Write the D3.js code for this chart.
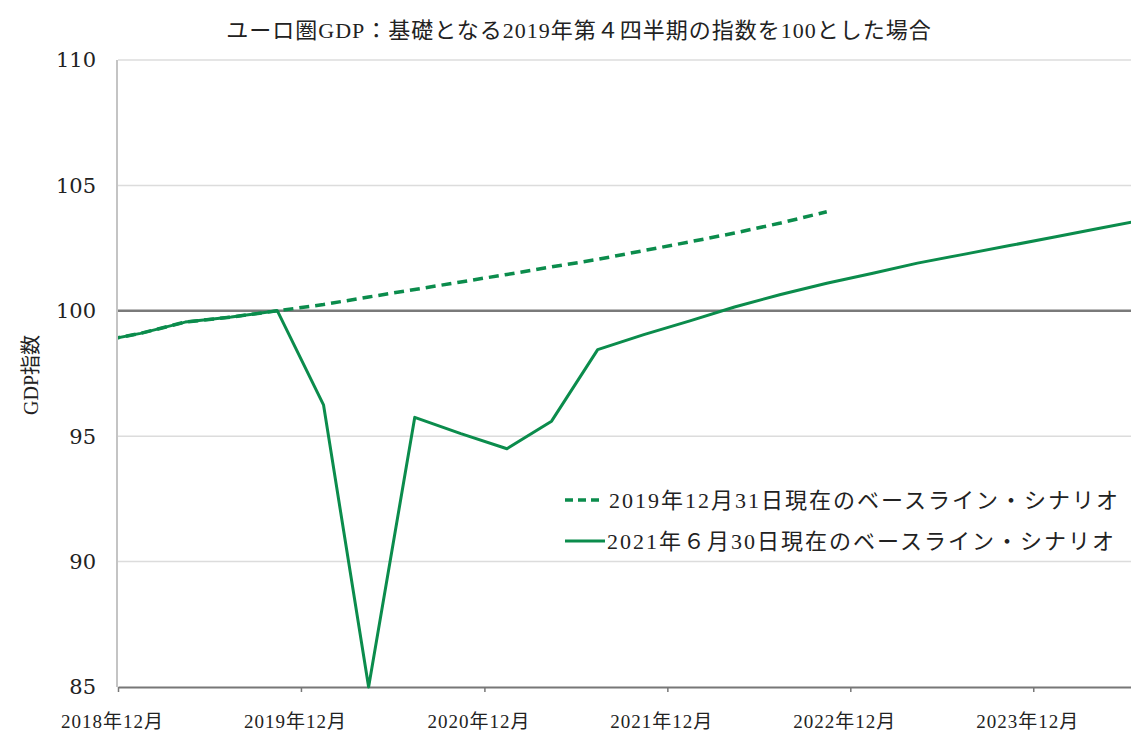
<!DOCTYPE html>
<html>
<head>
<meta charset="utf-8">
<style>
  body { margin: 0; background: #fff; }
  svg text { font-family: 'Liberation Serif', 'Noto Sans CJK JP', serif; fill: #222; }
  .grid line { stroke: #dcdcdc; stroke-width: 1.5; }
  .axis--x path { stroke: #777; stroke-width: 2; }
  .axis--x line { stroke: #777; stroke-width: 1.5; }
</style>
<title>ユーロ圏GDP</title>
</head>
<body>
<svg width="1131" height="733"></svg>
<script src="https://cdn.jsdelivr.net/npm/d3@7"></script>
<script>

// quarters, plotted at mid-quarter
var quarters = ["2018Q4","2019Q1","2019Q2","2019Q3","2019Q4",
                "2020Q1","2020Q2","2020Q3","2020Q4",
                "2021Q1","2021Q2","2021Q3","2021Q4",
                "2022Q1","2022Q2","2022Q3","2022Q4",
                "2023Q1","2023Q2","2023Q3","2023Q4",
                "2024Q1","2024Q2","2024Q3"];

// baseline as of 2019-12-31 (dashed)
var baseline2019 = [98.75, 99.1, 99.55, 99.75, 100.0,
                    100.25, 100.55, 100.85, 101.15,
                    101.45, 101.75, 102.05, 102.4,
                    102.75, 103.1, 103.5, 103.95,
                    null, null, null, null, null, null, null];

// baseline as of 2021-06-30 (solid)
var baseline2021 = [98.75, 99.1, 99.55, 99.75, 100.0,
                    96.25, 85.0, 95.75, 95.1,
                    94.5, 95.6, 98.45, 99.05,
                    99.6, 100.15, 100.65, 101.1,
                    101.5, 101.9, 102.25, 102.6,
                    102.95, 103.3, 103.65];

var yTicks = [85, 90, 95, 100, 105, 110];
var xTickDates = ["2019-01-01","2020-01-01","2021-01-01","2022-01-01","2023-01-01","2024-01-01"];
var xTickLabels = ["2018年12月","2019年12月","2020年12月","2021年12月","2022年12月","2023年12月"];

var legendLabels = ["2019年12月31日現在のベースライン・シナリオ", "2021年６月30日現在のベースライン・シナリオ"];

var green = "#0b8c4c";

function qDate(q) {
  var yr = +q.slice(0, 4), qi = +q.slice(5);
  return new Date(yr, (qi - 1) * 3 + 1, 15);
}

var svg = d3.select("svg"),
    plot = {left: 118, right: 1131, top: 60, bottom: 687};

var x = d3.scaleTime()
    .domain([new Date(2019, 0, 1), new Date(2024, 6, 14)])
    .range([plot.left, plot.right]);
var y = d3.scaleLinear().domain([85, 110]).range([plot.bottom, plot.top]);

// title
svg.append("text")
    .attr("x", 579).attr("y", 38)
    .attr("text-anchor", "middle")
    .style("font-size", "22px")
    .style("letter-spacing", "1px")
    .text("ユーロ圏GDP：基礎となる2019年第４四半期の指数を100とした場合");

// gridlines
svg.append("g").attr("class", "grid")
  .selectAll("line")
  .data(yTicks.filter(function(d) { return d != 100 && d != 85; }))
  .enter().append("line")
    .attr("x1", plot.left).attr("x2", plot.right)
    .attr("y1", function(d) { return y(d); })
    .attr("y2", function(d) { return y(d); });

// left axis line
svg.append("line")
    .attr("x1", plot.left - 1).attr("x2", plot.left - 1)
    .attr("y1", plot.top).attr("y2", plot.bottom)
    .attr("stroke", "#c4c4c4").attr("stroke-width", 2);

// 100 line
svg.append("line")
    .attr("x1", plot.left).attr("x2", plot.right)
    .attr("y1", y(100)).attr("y2", y(100))
    .attr("stroke", "#7a7a7a").attr("stroke-width", 2.5);

// y tick labels
svg.append("g")
  .selectAll("text")
  .data(yTicks)
  .enter().append("text")
    .attr("x", 96)
    .attr("y", function(d) { return y(d); })
    .attr("dy", "0.35em")
    .attr("text-anchor", "end")
    .style("font-family", "'DejaVu Serif', serif")
    .style("font-size", "21px")
    .text(function(d) { return d; });

// y title
svg.append("text")
    .attr("transform", "translate(38,375) rotate(-90)")
    .attr("text-anchor", "middle")
    .style("font-size", "20px")
    .text("GDP指数");

// x axis
var xAxis = d3.axisBottom(x)
    .tickValues(xTickDates.map(function(s) { return new Date(s + "T00:00:00"); }))
    .tickSize(5)
    .tickSizeOuter(0)
    .tickFormat(function(d, i) { return xTickLabels[i]; });

var gx = svg.append("g")
    .attr("class", "axis axis--x")
    .attr("transform", "translate(0," + plot.bottom + ")")
    .call(xAxis);
gx.selectAll("text")
    .attr("y", 28)
    .attr("x", -6)
    .style("font-size", "19px")
    .style("letter-spacing", "1px")
    .style("font-family", "'Liberation Serif', 'Noto Sans CJK JP', serif")
    .attr("fill", "#222");

// clip
svg.append("clipPath").attr("id", "plotclip")
  .append("rect")
    .attr("x", plot.left).attr("y", plot.top - 5)
    .attr("width", plot.right - plot.left).attr("height", plot.bottom - plot.top + 10);

var line = d3.line()
    .defined(function(d) { return d.v != null; })
    .x(function(d) { return x(d.date); })
    .y(function(d) { return y(d.v); });

function series(vals) {
  return quarters.map(function(q, i) { return {date: qDate(q), v: vals[i]}; });
}

var lines = svg.append("g").attr("clip-path", "url(#plotclip)");

lines.append("path")
    .datum(series(baseline2021))
    .attr("fill", "none")
    .attr("stroke", green)
    .attr("stroke-width", 3)
    .attr("stroke-linejoin", "round")
    .attr("d", line);

lines.append("path")
    .datum(series(baseline2019))
    .attr("fill", "none")
    .attr("stroke", green)
    .attr("stroke-width", 3.5)
    .attr("stroke-dasharray", "10,6")
    .attr("d", line);

// legend
var legend = svg.append("g").attr("transform", "translate(565,500)");
legendLabels.forEach(function(lab, i) {
  var row = legend.append("g").attr("transform", "translate(0," + (i * 41) + ")");
  row.append("line")
      .attr("x1", 0).attr("x2", i == 0 ? 37 : 40)
      .attr("stroke", green)
      .attr("stroke-width", i == 0 ? 3.5 : 3)
      .attr("stroke-dasharray", i == 0 ? "8,5" : null);
  row.append("text")
      .attr("x", i == 0 ? 44 : 42)
      .attr("dy", "0.35em")
      .style("font-size", "22px")
      .style("letter-spacing", "2px")
      .text(lab);
});

</script>
</body>
</html>
